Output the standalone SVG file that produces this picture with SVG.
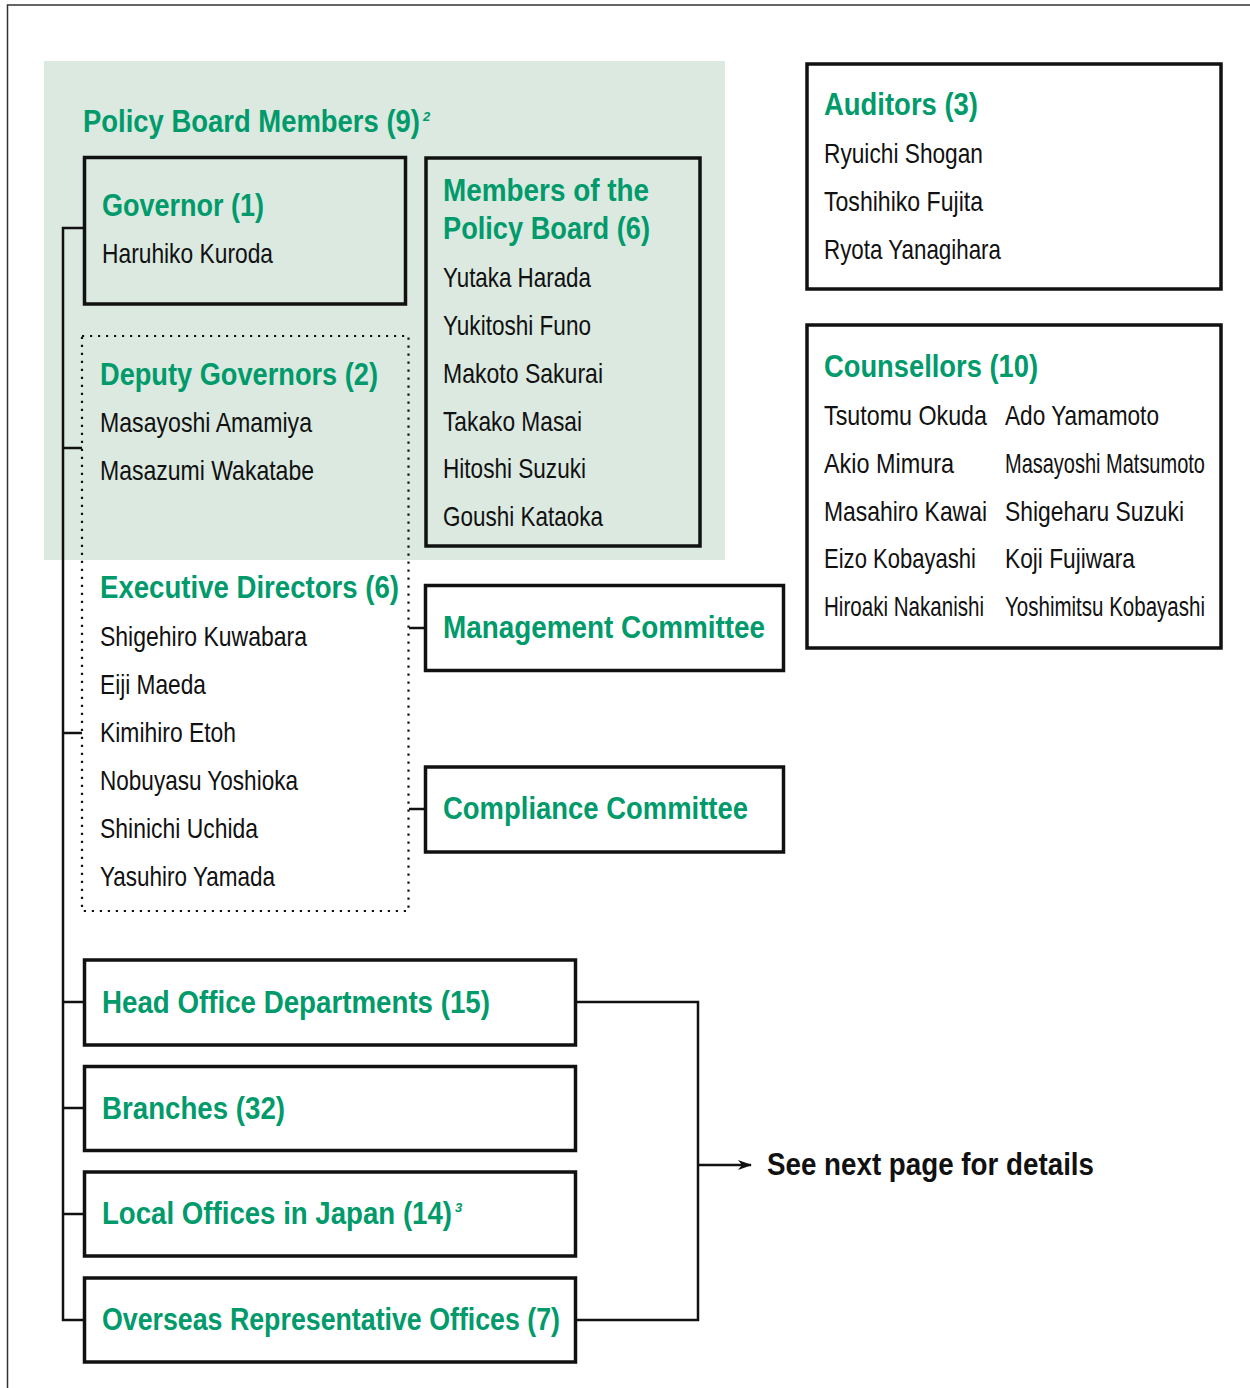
<svg xmlns="http://www.w3.org/2000/svg" width="1250" height="1388" viewBox="0 0 1250 1388">
<defs>
<style>
.t{font-family:"Liberation Sans",Arial,sans-serif;font-weight:bold;font-size:32px;fill:#009a6b}
.n{font-family:"Liberation Sans",Arial,sans-serif;font-size:28px;fill:#111}
.sup{font-family:"Liberation Sans",Arial,sans-serif;font-style:italic;font-weight:bold;font-size:13px;fill:#009a6b}
.bx{fill:none;stroke:#111;stroke-width:3.5}
.wb{fill:#fff;stroke:#111;stroke-width:3.5}
.ln{fill:none;stroke:#111;stroke-width:2.5}
</style>
<marker id="arr" viewBox="0 0 14 10" refX="13" refY="5" markerWidth="14" markerHeight="10" markerUnits="userSpaceOnUse" orient="auto">
<path d="M0,0 L14,5 L0,10 L4,5 z" fill="#111"/>
</marker>
</defs>
<rect x="0" y="0" width="1250" height="1388" fill="#fff"/>
<path d="M7.5,1388 V5 H1250" fill="none" stroke="#333" stroke-width="1.5"/>
<g id="policy-board">
<rect x="44" y="61" width="681" height="499" fill="#dbe9e0"/>
<text class="t" transform="translate(83,132) scale(0.857,1)" textLength="393.2" lengthAdjust="spacingAndGlyphs">Policy Board Members (9)</text>
<text class="sup" x="423" y="121">2</text>
</g>
<g id="connectors">
<path class="ln" d="M84,228 H63 V1320 H84"/>
<path class="ln" d="M63,448 H82"/>
<path class="ln" d="M63,733 H82"/>
<path class="ln" d="M63,1002 H84"/>
<path class="ln" d="M63,1108 H84"/>
<path class="ln" d="M63,1214 H84"/>
<path class="ln" d="M409,628 H425"/>
<path class="ln" d="M409,809 H425"/>
<path class="ln" d="M576,1002 H698 V1320 H576"/>
<path class="ln" d="M698,1165 H751" marker-end="url(#arr)"/>
</g>
<g id="governor">
<rect class="bx" x="84.5" y="157.5" width="321" height="146.5"/>
<text class="t" x="102" y="216" textLength="162" lengthAdjust="spacingAndGlyphs">Governor (1)</text>
<text class="n" x="102" y="263" textLength="171" lengthAdjust="spacingAndGlyphs">Haruhiko Kuroda</text>
</g>
<g id="members">
<rect class="bx" x="426" y="158" width="274" height="388"/>
<text class="t" x="443" y="201" textLength="206" lengthAdjust="spacingAndGlyphs">Members of the</text>
<text class="t" x="443" y="239" textLength="207" lengthAdjust="spacingAndGlyphs">Policy Board (6)</text>
<text class="n" x="443" y="287" textLength="148" lengthAdjust="spacingAndGlyphs">Yutaka Harada</text>
<text class="n" x="443" y="335" textLength="148" lengthAdjust="spacingAndGlyphs">Yukitoshi Funo</text>
<text class="n" x="443" y="383" textLength="160" lengthAdjust="spacingAndGlyphs">Makoto Sakurai</text>
<text class="n" x="443" y="431" textLength="139" lengthAdjust="spacingAndGlyphs">Takako Masai</text>
<text class="n" x="443" y="478" textLength="143" lengthAdjust="spacingAndGlyphs">Hitoshi Suzuki</text>
<text class="n" x="443" y="526" textLength="160" lengthAdjust="spacingAndGlyphs">Goushi Kataoka</text>
</g>
<g id="executives">
<rect x="82" y="336" width="326.5" height="575" fill="none" stroke="#111" stroke-width="2.2" stroke-dasharray="2.2 5.8"/>
<text class="t" x="100" y="385" textLength="278" lengthAdjust="spacingAndGlyphs">Deputy Governors (2)</text>
<text class="n" x="100" y="432" textLength="212" lengthAdjust="spacingAndGlyphs">Masayoshi Amamiya</text>
<text class="n" x="100" y="480" textLength="214" lengthAdjust="spacingAndGlyphs">Masazumi Wakatabe</text>
<text class="t" x="100" y="598" textLength="299" lengthAdjust="spacingAndGlyphs">Executive Directors (6)</text>
<text class="n" x="100" y="646" textLength="207" lengthAdjust="spacingAndGlyphs">Shigehiro Kuwabara</text>
<text class="n" x="100" y="694" textLength="106" lengthAdjust="spacingAndGlyphs">Eiji Maeda</text>
<text class="n" x="100" y="742" textLength="136" lengthAdjust="spacingAndGlyphs">Kimihiro Etoh</text>
<text class="n" x="100" y="790" textLength="198" lengthAdjust="spacingAndGlyphs">Nobuyasu Yoshioka</text>
<text class="n" x="100" y="838" textLength="158" lengthAdjust="spacingAndGlyphs">Shinichi Uchida</text>
<text class="n" x="100" y="886" textLength="175" lengthAdjust="spacingAndGlyphs">Yasuhiro Yamada</text>
</g>
<g id="management-committee">
<rect class="wb" x="425.5" y="585.5" width="358" height="85"/>
<text class="t" x="443" y="638" textLength="322" lengthAdjust="spacingAndGlyphs">Management Committee</text>
</g>
<g id="compliance-committee">
<rect class="wb" x="425.5" y="767" width="358" height="85"/>
<text class="t" x="443" y="819" textLength="305" lengthAdjust="spacingAndGlyphs">Compliance Committee</text>
</g>
<g id="auditors">
<rect class="wb" x="807" y="64" width="414" height="225"/>
<text class="t" x="824" y="115" textLength="154" lengthAdjust="spacingAndGlyphs">Auditors (3)</text>
<text class="n" x="824" y="163" textLength="159" lengthAdjust="spacingAndGlyphs">Ryuichi Shogan</text>
<text class="n" x="824" y="211" textLength="159" lengthAdjust="spacingAndGlyphs">Toshihiko Fujita</text>
<text class="n" x="824" y="259" textLength="177" lengthAdjust="spacingAndGlyphs">Ryota Yanagihara</text>
</g>
<g id="counsellors">
<rect class="wb" x="807" y="325" width="414" height="323"/>
<text class="t" x="824" y="377" textLength="214" lengthAdjust="spacingAndGlyphs">Counsellors (10)</text>
<text class="n" x="824" y="425" textLength="163" lengthAdjust="spacingAndGlyphs">Tsutomu Okuda</text>
<text class="n" x="1005" y="425" textLength="154" lengthAdjust="spacingAndGlyphs">Ado Yamamoto</text>
<text class="n" x="824" y="473" textLength="130" lengthAdjust="spacingAndGlyphs">Akio Mimura</text>
<text class="n" transform="translate(1005,473) scale(0.714,1)" textLength="280" lengthAdjust="spacingAndGlyphs">Masayoshi Matsumoto</text>
<text class="n" x="824" y="521" textLength="163" lengthAdjust="spacingAndGlyphs">Masahiro Kawai</text>
<text class="n" x="1005" y="521" textLength="179" lengthAdjust="spacingAndGlyphs">Shigeharu Suzuki</text>
<text class="n" x="824" y="568" textLength="152" lengthAdjust="spacingAndGlyphs">Eizo Kobayashi</text>
<text class="n" x="1005" y="568" textLength="130" lengthAdjust="spacingAndGlyphs">Koji Fujiwara</text>
<text class="n" transform="translate(824,616) scale(0.735,1)" textLength="217.7" lengthAdjust="spacingAndGlyphs">Hiroaki Nakanishi</text>
<text class="n" transform="translate(1005,616) scale(0.726,1)" textLength="275.5" lengthAdjust="spacingAndGlyphs">Yoshimitsu Kobayashi</text>
</g>
<g id="head-office">
<rect class="wb" x="84.5" y="960" width="491" height="85"/>
<text class="t" x="102" y="1013" textLength="388" lengthAdjust="spacingAndGlyphs">Head Office Departments (15)</text>
</g>
<g id="branches">
<rect class="wb" x="84.5" y="1066.5" width="491" height="84"/>
<text class="t" x="102" y="1119" textLength="183" lengthAdjust="spacingAndGlyphs">Branches (32)</text>
</g>
<g id="local-offices">
<rect class="wb" x="84.5" y="1172" width="491" height="84"/>
<text class="t" transform="translate(102,1224) scale(0.864,1)" textLength="405.1" lengthAdjust="spacingAndGlyphs">Local Offices in Japan (14)</text>
<text class="sup" x="455" y="1212">3</text>
</g>
<g id="overseas">
<rect class="wb" x="84.5" y="1278" width="491" height="84"/>
<text class="t" x="102" y="1330" textLength="458" lengthAdjust="spacingAndGlyphs">Overseas Representative Offices (7)</text>
</g>
<g id="next-page">
<text x="767" y="1175" textLength="327" lengthAdjust="spacingAndGlyphs" style="font-family:'Liberation Sans',Arial,sans-serif;font-weight:bold;font-size:32px;fill:#111">See next page for details</text>
</g>
</svg>
